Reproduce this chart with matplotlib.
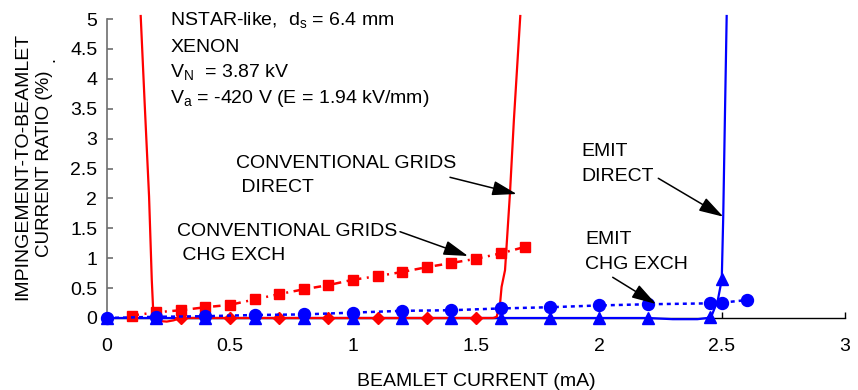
import matplotlib
matplotlib.use("Agg")
import matplotlib.pyplot as plt
from matplotlib.ticker import FuncFormatter

plt.rcParams['font.family'] = ['Liberation Sans', 'DejaVu Sans']
plt.rcParams['mathtext.fontset'] = 'custom'
plt.rcParams['mathtext.rm'] = 'Liberation Sans'

# ---------------- data ----------------
conv_chg_x = [0.1, 0.2, 0.3, 0.4, 0.5, 0.6, 0.7, 0.8, 0.9, 1.0, 1.1, 1.2, 1.3, 1.4, 1.5, 1.6, 1.7]
conv_chg_y = [0.04, 0.095, 0.13, 0.18, 0.22, 0.31, 0.40, 0.48, 0.55, 0.64, 0.70, 0.77, 0.85, 0.92, 0.99, 1.08, 1.19]

conv_dir_mx = [0.3, 0.5, 0.7, 0.9, 1.1, 1.3, 1.5]
conv_dir_my = [0.0, 0.0, 0.0, 0.0, 0.0, 0.0, 0.0]

conv_dir_cx = [0.137, 0.153, 0.171, 0.182, 0.188, 0.195, 0.21, 0.243, 0.27, 0.3, 0.5, 0.7, 0.9,
               1.1, 1.3, 1.5, 1.57, 1.584, 1.598, 1.604, 1.618, 1.638, 1.654, 1.68]
conv_dir_cy = [5.05, 3.6, 2.03, 0.64, 0.1, -0.03, -0.05, -0.06, -0.04, 0.0, 0.0, 0.0, 0.0,
               0.0, 0.0, 0.0, 0.0, 0.02, 0.25, 0.52, 0.80, 2.08, 3.31, 5.05]

emit_chg_x = [0.0, 0.2, 0.4, 0.6, 0.8, 1.0, 1.2, 1.4, 1.6, 1.8, 2.0, 2.2, 2.45, 2.5, 2.6]
emit_chg_y = [0.0, 0.02, 0.03, 0.05, 0.06, 0.09, 0.12, 0.13, 0.16, 0.18, 0.21, 0.23, 0.245, 0.256, 0.30]

emit_dir_mx = [0.0, 0.2, 0.4, 0.6, 0.8, 1.0, 1.2, 1.4, 1.6, 1.8, 2.0, 2.2, 2.45, 2.5]
emit_dir_my = [0.0, 0.0, 0.0, 0.0, 0.0, 0.0, 0.0, 0.0, 0.0, 0.0, 0.0, 0.0, 0.01, 0.65]

emit_dir_cx = [0.0, 2.2, 2.3, 2.4, 2.44, 2.46, 2.483, 2.499, 2.505, 2.512, 2.519]
emit_dir_cy = [0.0, 0.0, -0.02, -0.02, 0.0, 0.06, 0.30, 0.64, 1.69, 3.4, 5.05]

x_ticks = [0, 0.5, 1, 1.5, 2, 2.5, 3]
y_ticks = [0, 0.5, 1, 1.5, 2, 2.5, 3, 3.5, 4, 4.5, 5]

RED = '#ff0000'
BLUE = '#0000ff'

# ---------------- figure ----------------
fig = plt.figure(figsize=(8.58, 3.9), dpi=100)
ax = fig.add_axes([107 / 858, 72 / 390, 738 / 858, 299 / 390])
ax.set_xlim(0, 3)
ax.set_ylim(0, 5)

# lines
ax.plot(emit_dir_cx, emit_dir_cy, color=BLUE, lw=1.6, clip_on=False, zorder=3)
ax.plot(conv_dir_cx, conv_dir_cy, color=RED, lw=1.6, clip_on=False, zorder=3.2)
ax.plot(conv_dir_mx, conv_dir_my, linestyle='none', marker='D', ms=6.5, color=RED,
        clip_on=False, zorder=4)
ax.plot(conv_chg_x, conv_chg_y, color=RED, lw=1.8, linestyle=(0, (3, 2.2, 0.8, 2.2)),
        marker='s', ms=7.8, clip_on=False, zorder=4.2)
ax.plot(emit_chg_x, emit_chg_y, color=BLUE, lw=1.8, linestyle=(0, (1.6, 1.6)),
        marker='o', ms=8.6, clip_on=False, zorder=4.5)
ax.plot(emit_dir_mx, emit_dir_my, linestyle='none', marker='^', ms=8.2, color=BLUE,
        clip_on=False, zorder=4.6)

# spines / ticks
for s in ['top', 'right']:
    ax.spines[s].set_visible(False)
ax.spines['left'].set_color('#6e6e6e')
ax.spines['left'].set_linewidth(1.2)
ax.spines['bottom'].set_color('black')
ax.spines['bottom'].set_linewidth(1.0)

fmt = FuncFormatter(lambda v, p: '%g' % v)
ax.set_xticks(x_ticks)
ax.set_yticks(y_ticks)
ax.xaxis.set_major_formatter(fmt)
ax.yaxis.set_major_formatter(fmt)
ax.tick_params(axis='x', direction='in', length=4.5, width=1.0, color='black',
               pad=14.5, labelsize=14)
ax.tick_params(axis='y', direction='in', length=4.5, width=1.2, color='#6e6e6e',
               pad=7, labelsize=14)

ax.set_xlabel('BEAMLET CURRENT (mA)', fontsize=14, labelpad=13)

# y label (two lines + trailing dot)
fig.text(22.5 / 858, 1 - 166 / 390, 'IMPINGEMENT-TO-BEAMLET', rotation=90,
         ha='center', va='center', fontsize=14)
fig.text(44.5 / 858, 1 - 163.5 / 390, 'CURRENT RATIO (%)', rotation=90,
         ha='center', va='center', fontsize=13.5)
fig.text(50 / 858, 1 - 60 / 390, '.', rotation=90, ha='center', va='center', fontsize=13)


def px2data(px, py):
    return ((px - 107) / 246.0, (318 - py) / 59.8)


def label(px, py, s, **kw):
    x, y = px2data(px, py)
    ax.text(x, y, s, ha='left', va='baseline', fontsize=14, clip_on=False, **kw)


# top-left info block
label(170.5, 25.7, r'NSTAR-like,  d$_\mathregular{s}$ = 6.4 mm')
label(170.5, 51.7, 'XENON')
label(170.5, 77.7, r'V$_\mathregular{N}$  = 3.87 kV')
label(170.5, 103.3, r'V$_\mathregular{a}$ = -420 V (E = 1.94 kV/mm)')

# curve labels
label(235.7, 168.3, 'CONVENTIONAL GRIDS')
label(235.7, 192.3, ' DIRECT')
label(177.3, 235.7, 'CONVENTIONAL GRIDS')
label(177.3, 260.0, ' CHG EXCH')
label(581, 156.3, 'EMIT')
label(581, 181.0, 'DIRECT')
label(585, 244.3, 'EMIT')
label(585, 269.0, 'CHG EXCH')

arrows = [
    ((450.0, 177.3), (516.7, 194.0)),
    ((400.0, 231.7), (468.0, 256.0)),
    ((658.3, 178.3), (723.3, 216.7)),
    ((612.7, 277.3), (656.0, 304.0)),
]
for (tx, ty), (hx, hy) in arrows:
    ax.annotate('', xy=px2data(hx, hy), xytext=px2data(tx, ty),
                arrowprops=dict(arrowstyle='-|>,head_length=1.5,head_width=0.45',
                                mutation_scale=10, lw=1.1, color='black',
                                shrinkA=0, shrinkB=0),
                annotation_clip=False, zorder=6)

fig.savefig('out.png', dpi=100)
